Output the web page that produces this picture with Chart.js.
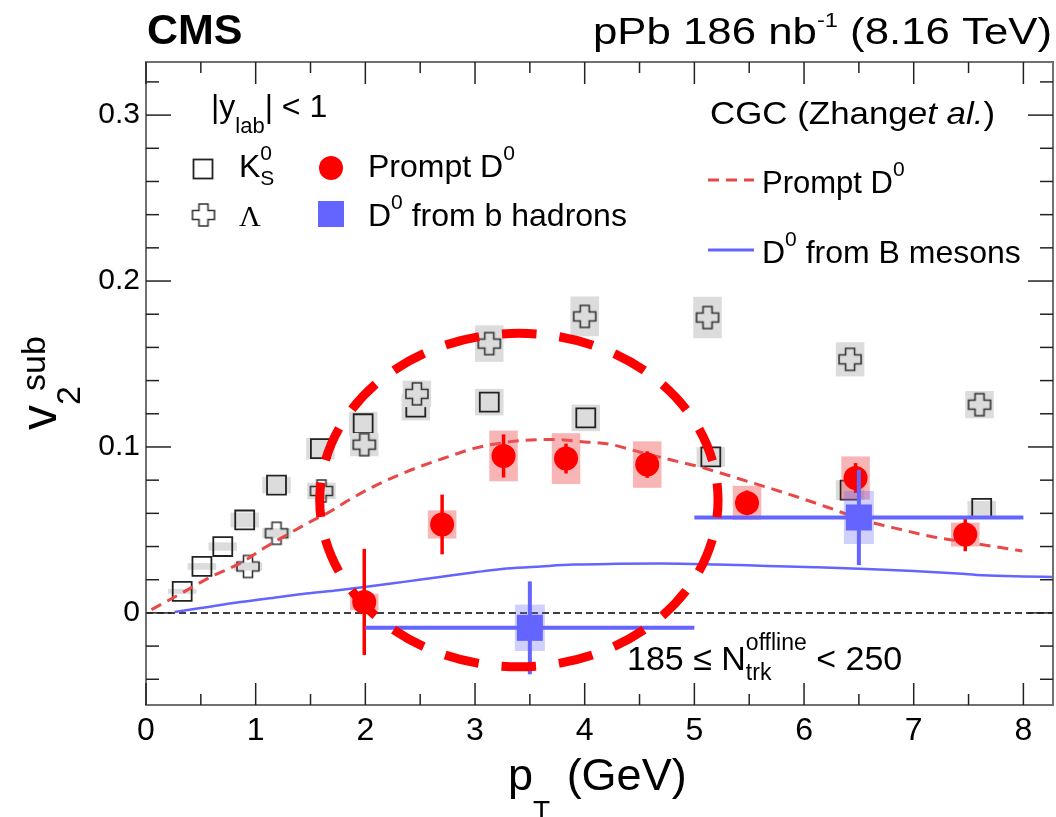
<!DOCTYPE html>
<html>
<head>
<meta charset="utf-8">
<script src="https://cdn.jsdelivr.net/npm/chart.js@4.4.1/dist/chart.umd.min.js"></script>
<style>
  html, body { margin: 0; padding: 0; background: #fff; }
  #wrap { width: 1056px; height: 817px; }
</style>
</head>
<body>
<div id="wrap"><canvas id="c" width="1056" height="817"></canvas></div>
<script>
const FONT = '"Liberation Sans", Arial, Helvetica, sans-serif';

// axis ranges and labelled ticks
const X_MIN = 0, X_MAX = 8.27;
const Y_MIN = -0.0555, Y_MAX = 0.332;
const X_TICKS = [0, 1, 2, 3, 4, 5, 6, 7, 8];
const Y_TICKS = [0, 0.1, 0.2, 0.3];

// K0S
const K0S_PT  = [0.33, 0.51, 0.70, 0.90, 1.19, 1.59, 1.98, 2.46, 3.13, 4.01, 5.15, 6.42, 7.62];
const K0S_V2  = [0.013, 0.028, 0.040, 0.056, 0.077, 0.099, 0.114, 0.124, 0.127, 0.1175, 0.094, 0.074, 0.063];
const K0S_SYS = [0.0015, 0.002, 0.0025, 0.0045, 0.005, 0.0065, 0.0072, 0.008, 0.008, 0.008, 0.006, 0.006, 0.0045];

// Lambda
const LAM_PT  = [0.93, 1.19, 1.60, 1.99, 2.47, 3.13, 4.00, 5.12, 6.42, 7.60];
const LAM_V2  = [0.028, 0.048, 0.0735, 0.1014, 0.132, 0.1623, 0.1787, 0.178, 0.1528, 0.1255];
const LAM_SYS = [0.0025, 0.003, 0.005, 0.007, 0.008, 0.011, 0.012, 0.0125, 0.0103, 0.0082];

// prompt D0
const D0_PT   = [1.99, 2.70, 3.26, 3.83, 4.57, 5.48, 6.47, 7.47];
const D0_V2   = [0.0066, 0.0533, 0.0946, 0.093, 0.0894, 0.0663, 0.0813, 0.0472];
const D0_STAT = [0.032, 0.018, 0.013, 0.009, 0.008, 0.0075, 0.009, 0.010];
const D0_SYS  = [0.005, 0.0085, 0.0153, 0.0153, 0.014, 0.0103, 0.013, 0.0072];

// D0 from b hadrons (pT bins 2-5 and 5-8)
const B_PT   = [3.5, 6.5];
const B_LO   = [2, 5];
const B_HI   = [5, 8];
const B_V2   = [-0.009, 0.0575];
const B_STAT = [0.028, 0.0287];
const B_SYS  = [0.014, 0.016];

// CGC calculations
const CGC_D_PT = [0.05, 0.3, 0.6, 0.86, 1.1, 1.31, 1.5, 1.65, 1.85, 2.07, 2.3, 2.53, 2.75, 2.98, 3.2, 3.44,
                  3.74, 4.0, 4.2, 4.5, 4.8, 5.05, 5.4, 5.84, 6.2, 6.57, 6.9, 7.18, 7.6, 7.99];
const CGC_D_V2 = [0.002, 0.011, 0.022, 0.030, 0.040, 0.048, 0.055, 0.060, 0.068, 0.076, 0.083, 0.089, 0.094, 0.099, 0.102, 0.104,
                  0.1045, 0.103, 0.102, 0.097, 0.092, 0.088, 0.081, 0.072, 0.064, 0.0554, 0.050, 0.0458, 0.0414, 0.0373];
const CGC_B_PT = [0.26, 0.5, 0.86, 1.2, 1.46, 1.75, 2.01, 2.35, 2.68, 3.0, 3.29, 3.6, 3.9, 4.3, 4.7,
                  5.2, 5.66, 6.1, 6.57, 7.0, 7.4, 7.63, 8.0, 8.27];
const CGC_B_V2 = [0.0006, 0.003, 0.0066, 0.0095, 0.0117, 0.0137, 0.0157, 0.0187, 0.0217, 0.0245, 0.0267, 0.028, 0.0291, 0.0296, 0.0298,
                  0.0292, 0.0283, 0.0275, 0.0265, 0.0253, 0.0238, 0.0227, 0.022, 0.0217];

// highlighted region (centre and half-axes in axis units)
const RING_CENTER = [3.40, 0.068];
const RING_RADII  = [1.816, 0.1005];

const RED = '#ff0000', BLUE = '#6464ff';

const pts = (xs, ys) => xs.map((x, i) => ({ x, y: ys[i] }));

function crossMarker(size, arm, color, lw) {
  const c = document.createElement('canvas');
  c.width = c.height = size + 4;
  const g = c.getContext('2d');
  const o = 2, a = (size - arm) / 2, b = a + arm;
  g.beginPath();
  g.moveTo(o + a, o); g.lineTo(o + b, o); g.lineTo(o + b, o + a); g.lineTo(o + size, o + a);
  g.lineTo(o + size, o + b); g.lineTo(o + b, o + b); g.lineTo(o + b, o + size); g.lineTo(o + a, o + size);
  g.lineTo(o + a, o + b); g.lineTo(o, o + b); g.lineTo(o, o + a); g.lineTo(o + a, o + a);
  g.closePath();
  g.strokeStyle = color; g.lineWidth = lw; g.stroke();
  return c;
}
const CROSS = crossMarker(22, 9, '#333', 1.6);

// text with sub/superscripts: parts = [text, size, dy, style, dx, noAdvance]
function rich(ctx, x, y, parts, opt = {}) {
  const fonts = parts.map(p => `${p[3] || ''} ${p[1]}px ${FONT}`);
  const widths = parts.map((p, i) => { ctx.font = fonts[i]; return ctx.measureText(p[0]).width; });
  const total = parts.reduce((s, p, i) => s + (p[5] ? 0 : widths[i] + (p[4] || 0)), 0);
  const sx = opt.width ? opt.width / total : 1;
  ctx.save();
  ctx.translate(opt.align === 'right' ? x - total * sx : x, y);
  ctx.scale(sx, 1);
  let cx = 0;
  parts.forEach((p, i) => {
    ctx.font = fonts[i];
    ctx.fillText(p[0], cx + (p[4] || 0), p[2] || 0);
    if (!p[5]) cx += widths[i] + (p[4] || 0);
  });
  ctx.restore();
}

function line(ctx, x0, y0, x1, y1) {
  ctx.beginPath(); ctx.moveTo(x0, y0); ctx.lineTo(x1, y1); ctx.stroke();
}

const decor = {
  id: 'decor',
  beforeDatasetsDraw(chart) {
    const { ctx, scales: { x, y } } = chart;
    ctx.save();
    ctx.strokeStyle = '#000'; ctx.lineWidth = 1.5; ctx.setLineDash([7, 4]);
    const py = y.getPixelForValue(0);
    line(ctx, x.getPixelForValue(X_MIN), py, x.getPixelForValue(X_MAX), py);
    ctx.restore();
  },
  beforeDatasetDraw(chart, args) {
    const ds = chart.data.datasets[args.index];
    const { ctx, scales: { x, y } } = chart;
    ctx.save();
    if (ds.sysY) {
      ctx.fillStyle = ds.boxFill;
      ds.data.forEach((p, i) => {
        const x0 = x.getPixelForValue(p.x - ds.boxDX), x1 = x.getPixelForValue(p.x + ds.boxDX);
        const y0 = y.getPixelForValue(p.y + ds.sysY[i]), y1 = y.getPixelForValue(p.y - ds.sysY[i]);
        ctx.fillRect(x0, y0, x1 - x0, y1 - y0);
      });
    }
    if (ds.statY) {
      ctx.strokeStyle = ds.barColor; ctx.lineWidth = ds.barWidth;
      ds.data.forEach((p, i) => {
        const px = x.getPixelForValue(p.x);
        line(ctx, px, y.getPixelForValue(p.y + ds.statY[i]), px, y.getPixelForValue(p.y - ds.statY[i]));
        if (ds.xLo) {
          const py = y.getPixelForValue(p.y);
          line(ctx, x.getPixelForValue(ds.xLo[i]), py, x.getPixelForValue(ds.xHi[i]), py);
        }
      });
    }
    ctx.restore();
  },
  afterDatasetsDraw(chart) {
    const { ctx, chartArea: a, scales: { x, y } } = chart;
    ctx.save();
    // dashed ring
    const cx = x.getPixelForValue(RING_CENTER[0]), cy = y.getPixelForValue(RING_CENTER[1]);
    const rx = x.getPixelForValue(RING_CENTER[0] + RING_RADII[0]) - cx;
    const ry = cy - y.getPixelForValue(RING_CENTER[1] + RING_RADII[1]);
    const perim = Math.PI * (3 * (rx + ry) - Math.sqrt((3 * rx + ry) * (rx + 3 * ry)));
    const period = perim / 20;
    ctx.strokeStyle = RED; ctx.lineWidth = 9;
    ctx.setLineDash([period * 0.6, period * 0.4]);
    ctx.lineDashOffset = period * 0.3;
    ctx.beginPath(); ctx.ellipse(cx, cy, rx, ry, 0, 0, Math.PI * 2); ctx.stroke();
    ctx.setLineDash([]);

    // frame
    ctx.strokeStyle = '#707070'; ctx.lineWidth = 2;
    ctx.strokeRect(a.left, a.top, a.right - a.left, a.bottom - a.top);

    // inward ticks on all four sides
    ctx.strokeStyle = '#222'; ctx.lineWidth = 1.5;
    for (let k = 0; k * 0.5 <= X_MAX + 1e-9; k++) {
      const px = x.getPixelForValue(k * 0.5), L = k % 2 === 0 ? 22 : 11;
      line(ctx, px, a.bottom, px, a.bottom - L);
      line(ctx, px, a.top, px, a.top + L);
    }
    for (let k = Math.ceil(Y_MIN / 0.02); k * 0.02 <= Y_MAX; k++) {
      const py = y.getPixelForValue(k * 0.02), L = k % 5 === 0 ? 25 : 13;
      line(ctx, a.left, py, a.left + L, py);
      line(ctx, a.right, py, a.right - L, py);
    }
    ctx.restore();
  },
  afterDraw(chart) {
    const { ctx } = chart;
    ctx.save();
    ctx.fillStyle = '#000';
    ctx.textBaseline = 'alphabetic';

    // header
    ctx.font = `bold 43px ${FONT}`;
    ctx.fillText('CMS', 147, 44);
    rich(ctx, 593, 44, [['pPb 186 nb', 37], ['-1', 20, -17], [' (8.16 TeV)', 37]], { width: 459 });

    // axis titles
    rich(ctx, 508, 790, [['p', 45], ['T', 28, 30], [' (GeV)', 45, 0, '', 4]]);
    ctx.save();
    ctx.translate(56, 430); ctx.rotate(-Math.PI / 2);
    rich(ctx, 0, 0, [['v', 50], ['2', 34, 24, '', 0, true], ['sub', 34, -11, '', 14]]);
    ctx.restore();

    // left legend
    rich(ctx, 211, 117, [['|y', 32], ['lab', 22, 16], ['| < 1', 32]]);
    ctx.strokeStyle = '#222'; ctx.lineWidth = 1.8;
    ctx.strokeRect(193.5, 159.5, 19, 19);
    ctx.drawImage(CROSS, 203.5 - CROSS.width / 2, 215 - CROSS.height / 2);
    rich(ctx, 239, 177, [['K', 32], ['0', 21, -17, '', 0, true], ['S', 21, 8]]);
    ctx.font = `30px "Liberation Serif", serif`;
    ctx.fillText('\u039B', 239, 226);
    ctx.fillStyle = RED;
    ctx.beginPath(); ctx.arc(331, 168, 12, 0, Math.PI * 2); ctx.fill();
    ctx.fillStyle = BLUE;
    ctx.fillRect(318, 201, 26, 26);
    ctx.fillStyle = '#000';
    rich(ctx, 368, 177, [['Prompt D', 32], ['0', 21, -17]]);
    rich(ctx, 368, 226, [['D', 32], ['0', 21, -17], [' from b hadrons', 32]]);

    // model legend
    rich(ctx, 710, 124, [['CGC (Zhang', 32], ['et al.', 32, 0, 'italic'], [')', 32]], { width: 285 });
    ctx.lineWidth = 3; ctx.strokeStyle = '#e84848'; ctx.setLineDash([11, 7]);
    line(ctx, 708, 180, 754, 180);
    ctx.setLineDash([]); ctx.strokeStyle = BLUE;
    line(ctx, 708, 250, 754, 250);
    rich(ctx, 762, 193, [['Prompt D', 31], ['0', 21, -17]]);
    rich(ctx, 762, 263, [['D', 32], ['0', 21, -17], [' from B mesons', 32]]);

    // multiplicity class
    rich(ctx, 627, 670, [['185 \u2264 N', 34], ['trk', 23, 10, '', 0, true], ['offline', 23, -20], [' < 250', 34]]);
    ctx.restore();
  }
};

new Chart(document.getElementById('c'), {
  type: 'scatter',
  data: {
    datasets: [
      { label: 'K0S', data: pts(K0S_PT, K0S_V2), pointStyle: 'rect', pointRadius: 13.4,
        borderColor: '#222', borderWidth: 1.8, backgroundColor: 'rgba(0,0,0,0)',
        sysY: K0S_SYS, boxDX: 0.13, boxFill: '#dcdcdc', order: 7 },
      { label: 'Lambda', data: pts(LAM_PT, LAM_V2), pointStyle: CROSS, pointRadius: 11,
        sysY: LAM_SYS, boxDX: 0.13, boxFill: '#dcdcdc', order: 6 },
      { type: 'line', label: 'CGC prompt D0', data: pts(CGC_D_PT, CGC_D_V2), borderColor: '#e84848',
        borderWidth: 3, borderDash: [11, 7], pointRadius: 0, showLine: true,
        cubicInterpolationMode: 'monotone', order: 5 },
      { type: 'line', label: 'CGC D0 from B', data: pts(CGC_B_PT, CGC_B_V2), borderColor: BLUE,
        borderWidth: 2.5, pointRadius: 0, showLine: true, cubicInterpolationMode: 'monotone', order: 4 },
      { label: 'Prompt D0', data: pts(D0_PT, D0_V2), pointStyle: 'circle', pointRadius: 12,
        backgroundColor: RED, borderWidth: 0,
        sysY: D0_SYS, boxDX: 0.13, boxFill: 'rgba(240,90,90,0.45)',
        statY: D0_STAT, barColor: RED, barWidth: 3.5, order: 2 },
      { label: 'D0 from b hadrons', data: pts(B_PT, B_V2), pointStyle: 'rect', pointRadius: 18.4,
        backgroundColor: BLUE, borderWidth: 0,
        sysY: B_SYS, boxDX: 0.137, boxFill: 'rgba(100,100,255,0.3)',
        statY: B_STAT, xLo: B_LO, xHi: B_HI, barColor: BLUE, barWidth: 4, order: 1 }
    ]
  },
  options: {
    responsive: false,
    animation: false,
    events: [],
    layout: { autoPadding: false, padding: { top: 62, right: 3, left: 0, bottom: 0 } },
    plugins: { legend: { display: false }, tooltip: { enabled: false } },
    scales: {
      x: {
        type: 'linear', min: X_MIN, max: X_MAX,
        grid: { display: false, drawTicks: false }, border: { display: false },
        ticks: { font: { family: FONT, size: 32 }, color: '#000', padding: 7, maxRotation: 0,
                 autoSkip: false, includeBounds: false, callback: v => String(v) },
        afterBuildTicks: s => { s.ticks = X_TICKS.map(v => ({ value: v })); },
        afterFit: s => { s.height = 112; s.paddingLeft = 0; s.paddingRight = 0; }
      },
      y: {
        type: 'linear', min: Y_MIN, max: Y_MAX,
        grid: { display: false, drawTicks: false }, border: { display: false },
        ticks: { font: { family: FONT, size: 30 }, color: '#000', padding: 6,
                 autoSkip: false, includeBounds: false, callback: v => String(v) },
        afterBuildTicks: s => { s.ticks = Y_TICKS.map(v => ({ value: v })); },
        afterFit: s => { s.width = 146; s.paddingTop = 0; s.paddingBottom = 0; }
      }
    }
  },
  plugins: [decor]
});
</script>
</body>
</html>
